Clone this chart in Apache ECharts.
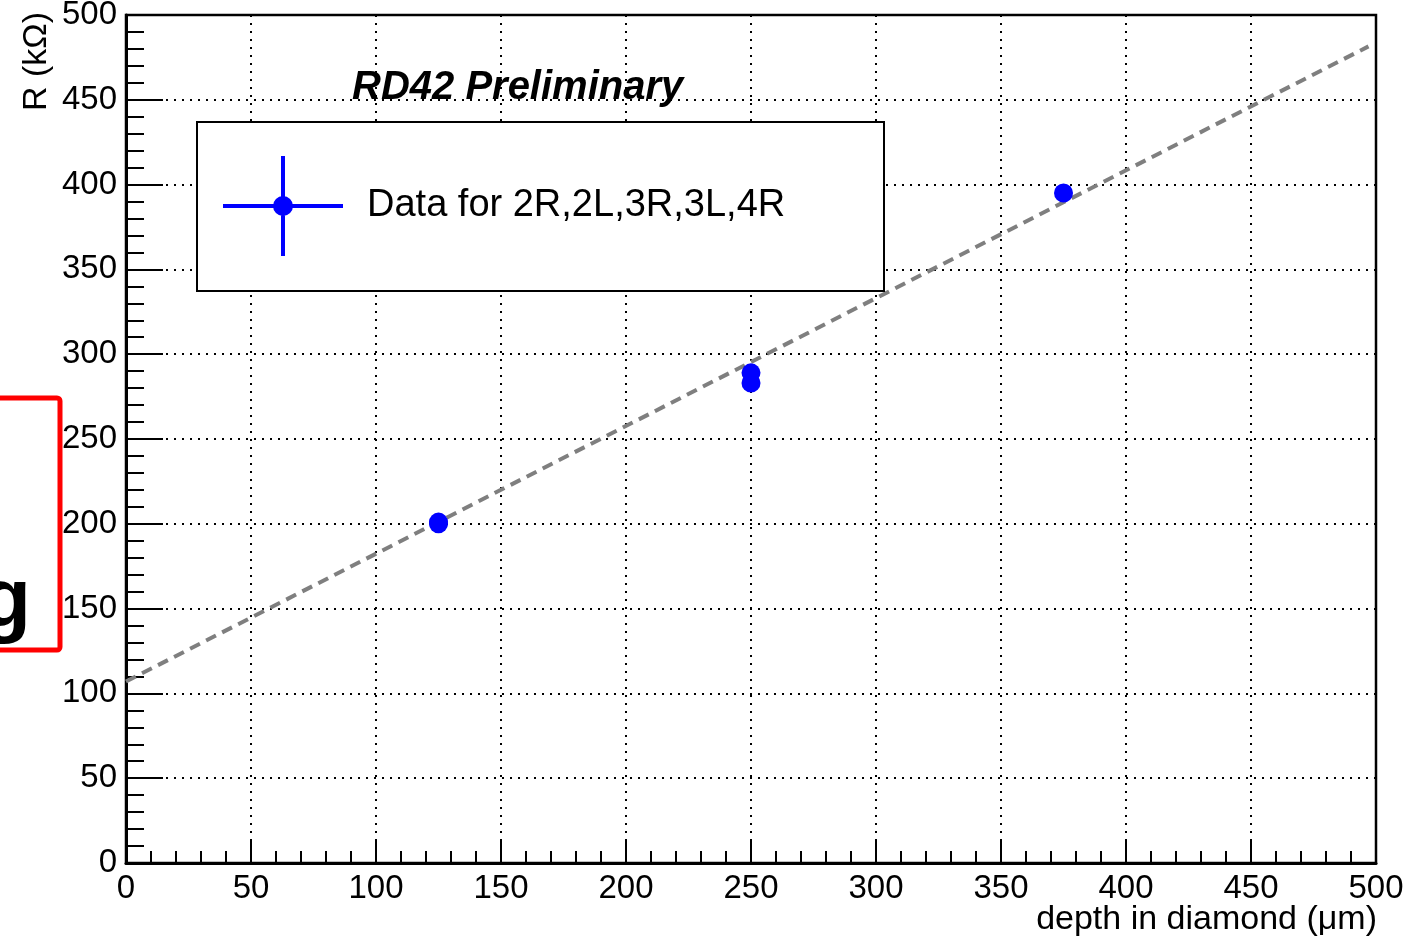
<!DOCTYPE html>
<html>
<head>
<meta charset="utf-8">
<script src="https://cdn.jsdelivr.net/npm/echarts@6/dist/echarts.min.js"></script>
<style>
  html, body { margin: 0; padding: 0; background: #fff; }
  #main { width: 1424px; height: 938px; }
</style>
</head>
<body>
<div id="main"></div>
<script>
// measured points: depth (um) vs R (kOhm)
var depth = [125, 125, 250, 250, 375];
var resistance = [200, 201, 289, 283, 395];
// linear fit drawn as dashed line
var fitX = [0, 497];
var fitY = [107, 481.5];
var xTicks = [0, 50, 100, 150, 200, 250, 300, 350, 400, 450, 500];
var yTicks = [0, 50, 100, 150, 200, 250, 300, 350, 400, 450, 500];
var legendName = 'Data for 2R,2L,3R,3L,4R';

var FONT = '"Liberation Sans", Arial, sans-serif';

var myChart = echarts.init(document.getElementById('main'));

var gridDots = { show: true, lineStyle: { color: '#000', width: 2, type: [2, 6] } };

option = {
    backgroundColor: '#fff',
    animation: false,
    title: {
        text: 'RD42 Preliminary',
        left: 352,
        top: 68,
        padding: 0,
        textStyle: {
            fontFamily: FONT,
            fontSize: 40,
            fontWeight: 'bold',
            fontStyle: 'italic',
            color: '#000'
        }
    },
    grid: {
        left: 126,
        right: 48,
        top: 15,
        bottom: 75,
        show: true,
        borderColor: '#000',
        borderWidth: 2.5,
        outerBoundsMode: 'none'
    },
    legend: {
        data: [legendName],
        left: 223,
        top: 156,
        padding: 0,
        itemWidth: 120,
        itemHeight: 100,
        icon: 'path://M0 48H120V52H0Z M58 0H62V100H58Z M70 50A10 10 0 1 1 50 50A10 10 0 1 1 70 50Z',
        itemStyle: { opacity: 1 },
        textStyle: {
            fontFamily: FONT,
            fontSize: 38,
            color: '#000',
            padding: [0, 0, 0, 19]
        },
        selectedMode: false
    },
    xAxis: {
        type: 'value',
        min: xTicks[0],
        max: xTicks[xTicks.length - 1],
        interval: xTicks[1] - xTicks[0],
        axisLine: { show: true, lineStyle: { color: '#000', width: 3 } },
        axisTick: { show: true, inside: true, length: 24, lineStyle: { color: '#000', width: 2 } },
        minorTick: { show: true, splitNumber: 5, length: 12, lineStyle: { color: '#000', width: 2 } },
        axisLabel: { fontFamily: FONT, fontSize: 33, color: '#000', margin: 9 },
        splitLine: gridDots
    },
    yAxis: {
        type: 'value',
        min: yTicks[0],
        max: yTicks[yTicks.length - 1],
        interval: yTicks[1] - yTicks[0],
        axisLine: { show: true, lineStyle: { color: '#000', width: 3 } },
        axisTick: { show: true, inside: true, length: 37, lineStyle: { color: '#000', width: 2 } },
        minorTick: { show: true, splitNumber: 5, length: 18, lineStyle: { color: '#000', width: 2 } },
        axisLabel: { fontFamily: FONT, fontSize: 33, color: '#000', margin: 9 },
        splitLine: gridDots
    },
    graphic: [
        {
            type: 'rect',
            z: 3,
            shape: { x: 197, y: 122, width: 687, height: 169 },
            style: { fill: '#fff', stroke: '#000', lineWidth: 2 }
        },
        {
            type: 'text',
            x: 37,
            y: 12,
            rotation: Math.PI / 2,
            style: {
                text: 'R (kΩ)',
                fontFamily: FONT,
                fontSize: 34,
                fill: '#000',
                align: 'right',
                verticalAlign: 'middle'
            }
        },
        {
            type: 'text',
            x: 1377,
            y: 920,
            style: {
                text: 'depth in diamond (μm)',
                fontFamily: FONT,
                fontSize: 34,
                fill: '#000',
                align: 'right',
                verticalAlign: 'middle'
            }
        },
        // leftover of a slide frame on the left edge
        {
            type: 'rect',
            shape: { x: -20, y: 398, width: 80, height: 252, r: 3 },
            style: { fill: 'none', stroke: '#ff0000', lineWidth: 5 }
        },
        {
            type: 'text',
            x: 31,
            y: 562,
            style: {
                text: 'g',
                fontFamily: FONT,
                fontSize: 84,
                fontWeight: 'bold',
                fill: '#000',
                align: 'right',
                verticalAlign: 'alphabetic'
            }
        }
    ],
    series: [
        {
            name: 'fit',
            type: 'line',
            showSymbol: false,
            silent: true,
            z: 2,
            lineStyle: { color: '#7f7f7f', width: 4, type: [11, 7] },
            data: fitX.map(function (x, i) { return [x, fitY[i]]; })
        },
        {
            name: legendName,
            type: 'scatter',
            symbol: 'circle',
            symbolSize: 19,
            z: 4,
            itemStyle: { color: '#0000ff', opacity: 1 },
            data: depth.map(function (x, i) { return [x, resistance[i]]; })
        }
    ]
};

myChart.setOption(option);
</script>
</body>
</html>
